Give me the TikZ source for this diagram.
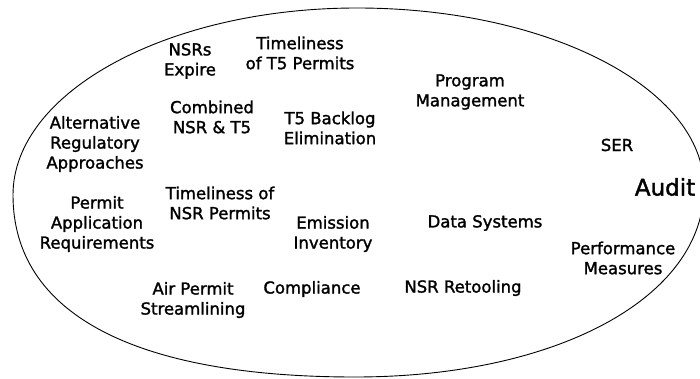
\documentclass[tikz,border=0pt]{standalone}
\usepackage{fontspec}
\setmainfont{DejaVu Sans}[FakeBold=1.6]
\begin{document}
\begin{tikzpicture}[x=1pt,y=-1pt,
  topic/.style={align=center,inner sep=0pt,font=\fontsize{16.5}{20}\selectfont},
  bigtopic/.style={align=center,inner sep=0pt,font=\fontsize{23}{26}\selectfont}]
\useasboundingbox (0,0) rectangle (700,379);
\begin{scope}
\clip (0,0) rectangle (700,379);
% outline: four quarter curves, fuller in the lower half
\coordinate (L) at (13,195);
\coordinate (T) at (357,8);
\coordinate (R) at (704,188);
\coordinate (B) at (355,377);
\draw[line width=0.9pt]
  (L) .. controls (13,92) and (168,8) .. (T)
      .. controls (548,8) and (704,88) .. (R)
      .. controls (704,298) and (556,377) .. (B)
      .. controls (133,377) and (13,313) .. (L) -- cycle;
\end{scope}
\node[topic] (nsr)  at (190,61)  {NSRs\\Expire};
\node[topic] (tt5)  at (300,53)  {Timeliness\\of T5 Permits};
\node[topic] (comb) at (212,117) {Combined\\NSR \& T5};
\node[topic] (alt)  at (95,144)  {Alternative\\Regulatory\\Approaches};
\node[topic] (back) at (330,128) {T5 Backlog\\Elimination};
\node[topic] (prog) at (470,92)  {Program\\Management};
\node[topic] (ser)  at (617,145) {SER};
\node[bigtopic] (aud) at (665,187) {Audit};
\node[topic] (par)  at (97,224)  {Permit\\Application\\Requirements};
\node[topic] (tnsr) at (220,203) {Timeliness of\\NSR Permits};
\node[topic] (emis) at (333,234) {Emission\\Inventory};
\node[topic] (data) at (485,223) {Data Systems};
\node[topic] (perf) at (623,258) {Performance\\Measures};
\node[topic] (air)  at (193,300) {Air Permit\\Streamlining};
\node[topic] (comp) at (312,289) {Compliance};
\node[topic] (ret)  at (463,288) {NSR Retooling};
\end{tikzpicture}
\end{document}
